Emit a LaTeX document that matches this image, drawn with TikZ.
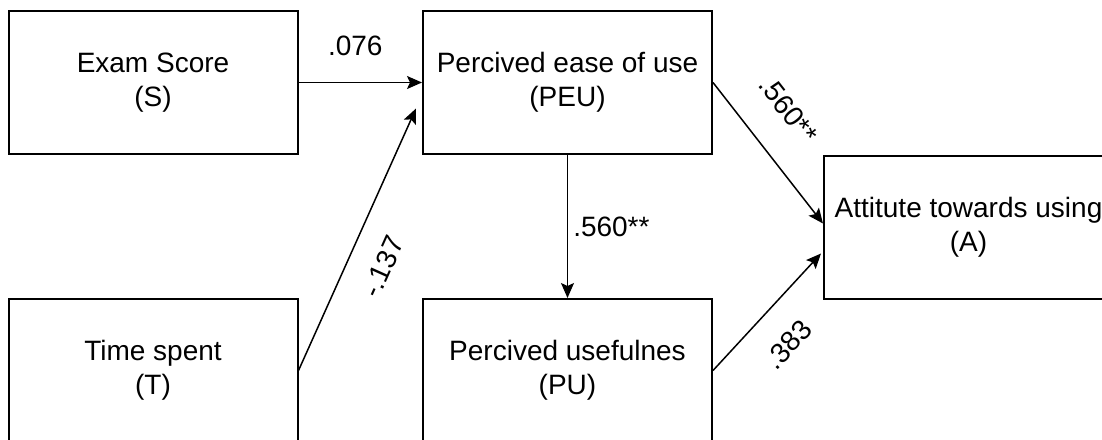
\documentclass[tikz,border=0pt]{standalone}
\usepackage{fontspec}
\setmainfont{Liberation Sans}
\usetikzlibrary{arrows.meta,calc}
\begin{document}
\begin{tikzpicture}[x=1pt,y=-1pt,
  box/.style={draw, line width=2pt, minimum width=289pt, minimum height=143pt, align=center, inner sep=0pt, font=\fontsize{28}{34}\selectfont},
  conn/.style={line width=1.5pt, -{Stealth[length=15pt,width=13pt,inset=3pt]}},
  lbl/.style={font=\fontsize{28}{34}\selectfont, inner sep=0pt}]
\useasboundingbox (0,0) rectangle (1102,439);
\node[box] (S) at (153,82.5) {Exam Score\\(S)};
\node[box] (T) at (153,370.5) {Time spent\\(T)};
\node[box] (PEU) at (567.5,82.5) {Percived ease of use\\(PEU)};
\node[box] (PU) at (567.5,370.5) {Percived usefulnes\\(PU)};
\node[box] (A) at (968.5,227.5) {Attitute towards using\\(A)};
\draw[conn] (S.east) -- node[lbl, pos=0.46, above=26pt] {.076} (PEU.west);
\draw[conn] (T.east) -- node[lbl, pos=0.45, sloped, below=24pt] {-.137} ($(PEU.west)+(-6,26)$);
\draw[conn] (PEU.south) -- node[lbl, midway, right=5pt] {.560**} (PU.north);
\draw[conn] (PEU.east) -- node[lbl, pos=0.38, sloped, above=32pt] {.560**} ($(A.west)+(0,-4)$);
\draw[conn] (PU.east) -- node[lbl, pos=0.44, sloped, below=27pt] {.383} ($(A.west)+(-2,26)$);
\end{tikzpicture}
\end{document}
